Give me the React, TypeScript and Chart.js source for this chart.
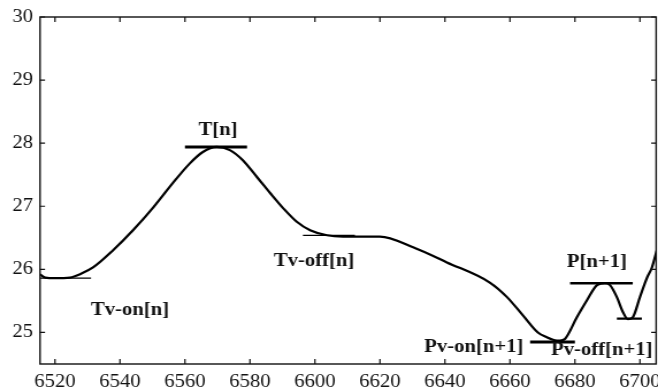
import { useEffect, useRef } from 'react';
import { Chart, registerables } from 'chart.js';

Chart.register(...registerables);

// Curve samples (sample index on x, measured value on y)
const curveX = [
  6515.4, 6517, 6520, 6524.6, 6528, 6531.7, 6537.8, 6544, 6550.2, 6556.3,
  6561.5, 6565.5, 6569.8, 6573.8, 6577.8, 6582.2, 6586.2, 6590.2, 6594.5, 6598.5,
  6603.7, 6608.6, 6615, 6620, 6630.2, 6640.6, 6653.8, 6659.1, 6664, 6668.6,
  6671.5, 6673.5, 6675.4, 6677, 6680.6, 6683.7, 6686.8, 6689.2, 6690.8, 6692.9,
  6694.8, 6696.3, 6697.8, 6700, 6702.2, 6703.7, 6705.2,
];
const curveY = [
  25.92, 25.87, 25.86, 25.87, 25.93, 26.03, 26.3, 26.62, 26.98, 27.37,
  27.68, 27.86, 27.94, 27.89, 27.73, 27.46, 27.21, 26.97, 26.75, 26.62,
  26.54, 26.52, 26.52, 26.52, 26.35, 26.11, 25.79, 25.56, 25.27, 25.0,
  24.92, 24.88, 24.87, 24.9, 25.24, 25.51, 25.75, 25.78, 25.75, 25.56,
  25.32, 25.21, 25.24, 25.56, 25.87, 26.03, 26.3,
];

// Horizontal level markers: start x, end x, level, stroke width
const markStart = [6515.4, 6560, 6596.3, 6666.2, 6678.5, 6692.9];
const markEnd = [6531.1, 6579.1, 6612.3, 6680, 6697.8, 6700.6];
const markLevel = [25.86, 27.94, 26.54, 24.85, 25.78, 25.22];
const markWidth = [1.2, 3, 1.2, 3, 2.5, 2.2];

// Text labels for the markers
const labelText = ['Tv-on[n]', 'T[n]', 'Tv-off[n]', 'Pv-on[n+1]', 'P[n+1]', 'Pv-off[n+1]'];
const labelX = [6543.1, 6570.2, 6599.7, 6648.9, 6686.8, 6688.3];
const labelY = [25.35, 28.21, 26.13, 24.76, 26.11, 24.71];

// Axis ticks
const xTicks = [6520, 6540, 6560, 6580, 6600, 6620, 6640, 6660, 6680, 6700];
const yTicks = [25, 26, 27, 28, 29, 30];
const xMin = 6515.4;
const xMax = 6705;
const yMin = 24.5;
const yMax = 30;

// The figure is drawn on a narrower canvas and widened with CSS
const STRETCH = 1.15;
const OUT_W = 658;
const OUT_H = 388;
const CANVAS_W = Math.round(OUT_W / STRETCH);

const SERIF = '"Liberation Serif", "Times New Roman", serif';

const framePlugin = {
  id: 'frameAndLabels',
  afterDatasetsDraw(chart: any) {
    const { ctx, chartArea } = chart;
    const xs = chart.scales.x;
    const ys = chart.scales.y;
    const { left, right, top, bottom } = chartArea;
    ctx.save();
    ctx.strokeStyle = '#111';
    ctx.lineWidth = 1.4;
    ctx.strokeRect(left, top, right - left, bottom - top);

    // inward tick marks on all four sides
    const tv = 5;
    const th = 5 / STRETCH;
    ctx.lineWidth = 1.2;
    ctx.beginPath();
    xs.ticks.forEach((t: any) => {
      const px = xs.getPixelForValue(t.value);
      ctx.moveTo(px, bottom);
      ctx.lineTo(px, bottom - tv);
      ctx.moveTo(px, top);
      ctx.lineTo(px, top + tv);
    });
    ys.ticks.forEach((t: any) => {
      const py = ys.getPixelForValue(t.value);
      ctx.moveTo(left, py);
      ctx.lineTo(left + th, py);
      ctx.moveTo(right, py);
      ctx.lineTo(right - th, py);
    });
    ctx.stroke();

    // marker labels
    ctx.fillStyle = '#111';
    ctx.font = `bold 18px ${SERIF}`;
    ctx.textAlign = 'center';
    ctx.textBaseline = 'middle';
    labelText.forEach((txt, i) => {
      ctx.fillText(txt, xs.getPixelForValue(labelX[i]), ys.getPixelForValue(labelY[i]));
    });
    ctx.restore();
  },
};

export default function App() {
  const canvasRef = useRef<HTMLCanvasElement | null>(null);

  useEffect(() => {
    const canvas = canvasRef.current;
    if (!canvas) return;

    const curve = curveX.map((x, i) => ({ x, y: curveY[i] }));
    const markSets = markStart.map((s, i) => ({
      data: [
        { x: s, y: markLevel[i] },
        { x: markEnd[i], y: markLevel[i] },
      ],
      borderColor: '#000',
      borderWidth: markWidth[i],
      pointRadius: 0,
      tension: 0,
    }));

    const chart = new Chart(canvas, {
      type: 'line',
      data: {
        datasets: [
          {
            data: curve,
            borderColor: '#000',
            borderWidth: 2.2,
            pointRadius: 0,
            cubicInterpolationMode: 'monotone',
          },
          ...markSets,
        ],
      },
      options: {
        responsive: false,
        animation: false,
        devicePixelRatio: 1,
        layout: { padding: { top: 17, right: 1.6, left: 0, bottom: 0 } },
        plugins: {
          legend: { display: false },
          tooltip: { enabled: false },
        },
        scales: {
          x: {
            type: 'linear',
            min: xMin,
            max: xMax,
            grid: { display: false, drawTicks: false },
            border: { display: false },
            afterBuildTicks: (scale: any) => {
              scale.ticks = xTicks.map((v) => ({ value: v }));
            },
            afterFit: (scale: any) => {
              scale.height = 24;
              scale.paddingLeft = 0;
              scale.paddingRight = 0;
            },
            ticks: {
              color: '#111',
              font: { family: SERIF, size: 18 },
              padding: 7,
              maxRotation: 0,
              autoSkip: false,
              callback: (v: any) => String(v),
            },
          },
          y: {
            type: 'linear',
            min: yMin,
            max: yMax,
            grid: { display: false, drawTicks: false },
            border: { display: false },
            afterBuildTicks: (scale: any) => {
              scale.ticks = yTicks.map((v) => ({ value: v }));
            },
            afterFit: (scale: any) => {
              scale.width = 34.8;
              scale.paddingTop = 0;
              scale.paddingBottom = 0;
            },
            ticks: {
              color: '#111',
              font: { family: SERIF, size: 18 },
              padding: 6,
              autoSkip: false,
              callback: (v: any) => String(v),
            },
          },
        },
      },
      plugins: [framePlugin],
    });

    return () => chart.destroy();
  }, []);

  return (
    <div style={{ position: 'fixed', left: 0, top: 0, width: OUT_W, height: OUT_H, background: '#fff' }}>
      <canvas
        ref={canvasRef}
        width={CANVAS_W}
        height={OUT_H}
        style={{ width: `${OUT_W}px`, height: `${OUT_H}px`, display: 'block' }}
      />
    </div>
  );
}
